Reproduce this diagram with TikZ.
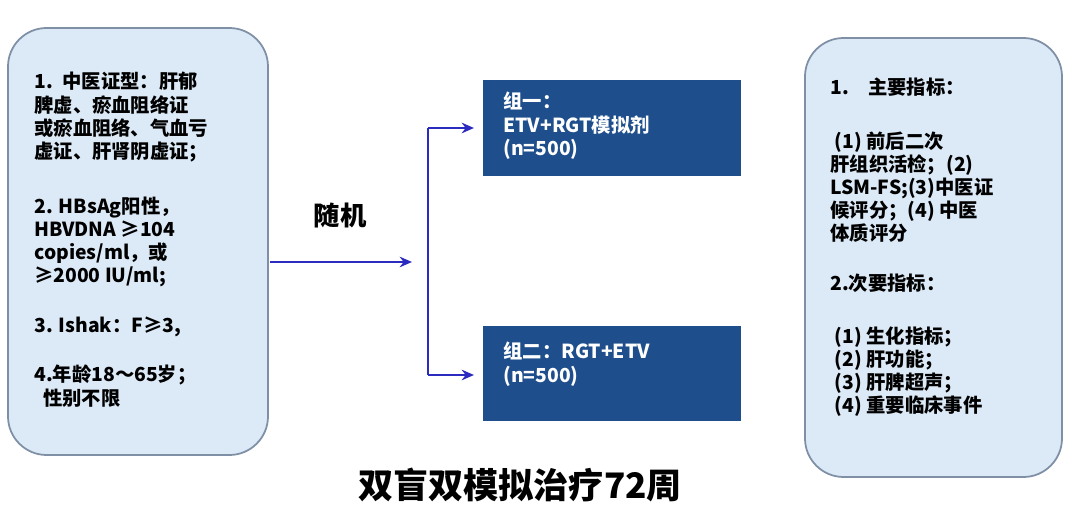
\documentclass[tikz,border=0pt]{standalone}
\usepackage{fontspec}
\setmainfont{Noto Sans CJK SC}
\usetikzlibrary{arrows.meta}
\definecolor{boxfill}{HTML}{DCEAF7}
\definecolor{boxline}{HTML}{7F8FA6}
\definecolor{darkb}{HTML}{1E4E8C}
\definecolor{arr}{HTML}{2B2BC0}
\tikzset{
 side/.style={draw=boxline,line width=1pt,fill=boxfill,rounded corners=22pt},
 grp/.style={fill=darkb,draw=darkb},
 txt/.style={anchor=north west,align=left,font=\fontsize{11}{13.2}\selectfont\bfseries,inner sep=0pt},
 wtxt/.style={txt,text=white},
 conn/.style={draw=arr,line width=1.3pt},
 tip/.style={conn,-{Stealth[length=7pt,width=6pt]}}
}
\begin{document}
\begin{tikzpicture}[x=0.02cm,y=-0.02cm]
\useasboundingbox[fill=white] (0,0) rectangle (1080,517);
\draw[side] (8,28) rectangle (268,455);
\draw[side] (805,38) rectangle (1062,477);
\node[grp,minimum width=257*0.02cm,minimum height=95*0.02cm,anchor=north west,inner sep=0] (g1) at (483,80) {};
\node[grp,minimum width=257*0.02cm,minimum height=94*0.02cm,anchor=north west,inner sep=0] (g2) at (483,326) {};
\node[wtxt] at (503,92) {组一：\\ETV+RGT模拟剂\\(n=500)};
\node[wtxt] at (503,342) {组二：RGT+ETV\\(n=500)};
\node[txt] (lt) at (34,72) {1.\enspace 中医证型：肝郁\\脾虚、瘀血阻络证\\或瘀血阻络、气血亏\\虚证、肝肾阴虚证；\\[18pt]2. HBsAg阳性，\\HBVDNA ≥104\\copies/ml，或\\≥2000 IU/ml;\\[15pt]3. Ishak：F≥3,\\[15pt]4.年龄18～65岁；\\\ \ 性别不限};
\node[txt] (rt) at (830,78) {1.\quad 主要指标：\\[17pt]\ (1) 前后二次\\肝组织活检；(2)\\LSM-FS;(3)中医证\\候评分；(4) 中医\\体质评分\\[15pt]2.次要指标：\\[17pt]\ (1) 生化指标；\\\ (2) 肝功能；\\\ (3) 肝脾超声；\\\ (4) 重要临床事件};
\node[font=\fontsize{15}{17}\selectfont\bfseries] (rnd) at (340,215) {随机};
\node[font=\fontsize{20}{23}\selectfont\bfseries] (title) at (520,485) {双盲双模拟治疗72周};
\coordinate (s) at (270,262);
\coordinate (m) at (412,262);
\coordinate (t) at (428,128);
\coordinate (b) at (428,375);
\draw[tip] (s) -- (m);
\draw[conn] (t) -- (b);
\draw[tip] (t) -- (474,128);
\draw[tip] (b) -- (474,375);
\end{tikzpicture}
\end{document}
